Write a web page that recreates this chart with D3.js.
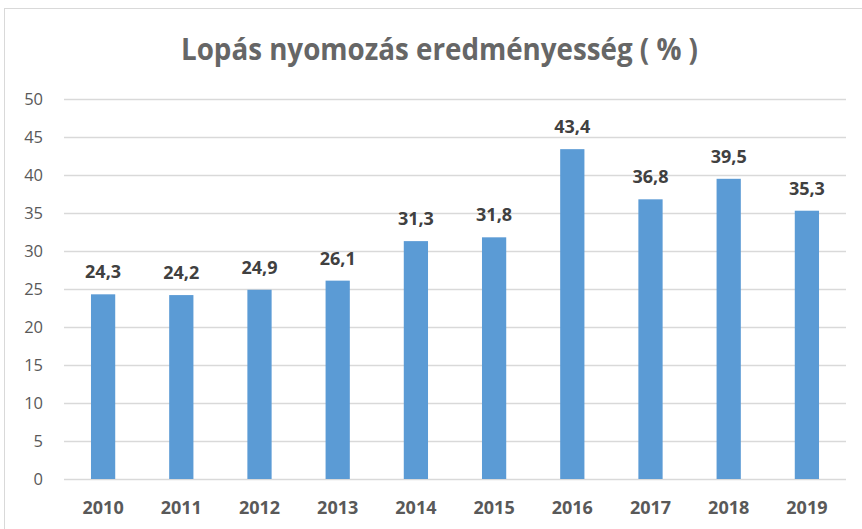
<!DOCTYPE html>
<html>
<head>
<meta charset="utf-8">
<script src="https://cdn.jsdelivr.net/npm/d3@7"></script>
<style>
  body { margin: 0; background: #fff; }
  text { font-family: "Open Sans", "DejaVu Sans", sans-serif; }
</style>
</head>
<body>
<svg id="chart" width="862" height="529"></svg>
<script>
// data
const years = ["2010", "2011", "2012", "2013", "2014", "2015", "2016", "2017", "2018", "2019"];
const values = [24.3, 24.2, 24.9, 26.1, 31.3, 31.8, 43.4, 36.8, 39.5, 35.3];
const yTicks = [0, 5, 10, 15, 20, 25, 30, 35, 40, 45, 50];
const title = "Lopás nyomozás eredményesség ( % )";

const svg = d3.select("#chart");

// chart frame
svg.append("rect")
    .attr("x", 4.5)
    .attr("y", 8.5)
    .attr("width", 870)
    .attr("height", 540)
    .attr("fill", "#fff")
    .attr("stroke", "#d9d9d9");

const x = d3.scaleBand()
    .domain(years)
    .range([64, 846])
    .paddingInner(0.69)
    .paddingOuter(0.345);

const y = d3.scaleLinear()
    .domain([0, 50])
    .range([479, 99]);

// gridlines
svg.append("g")
    .selectAll("line")
    .data(yTicks)
    .join("line")
    .attr("x1", 64)
    .attr("x2", 846)
    .attr("y1", d => Math.round(y(d)) + 0.5)
    .attr("y2", d => Math.round(y(d)) + 0.5)
    .attr("stroke", "#d9d9d9")
    .attr("stroke-width", 1.5);

// y axis labels
svg.append("g")
    .selectAll("text")
    .data(yTicks)
    .join("text")
    .attr("x", 43)
    .attr("y", d => y(d))
    .attr("dy", "0.36em")
    .attr("text-anchor", "end")
    .style("font-size", "16.5px")
    .attr("fill", "#595959")
    .text(d => d);

// bars
svg.append("g")
    .selectAll("rect")
    .data(values)
    .join("rect")
    .attr("x", (d, i) => x(years[i]))
    .attr("y", d => y(d))
    .attr("width", x.bandwidth())
    .attr("height", d => y(0) - y(d))
    .attr("fill", "#5b9bd5");

// value labels
svg.append("g")
    .selectAll("text")
    .data(values)
    .join("text")
    .attr("x", (d, i) => x(years[i]) + x.bandwidth() / 2)
    .attr("y", d => y(d) - 16)
    .attr("text-anchor", "middle")
    .style("font-size", "18px")
    .style("font-weight", "bold")
    .attr("fill", "#404040")
    .text(d => d.toFixed(1).replace(".", ","));

// x axis labels
svg.append("g")
    .selectAll("text")
    .data(years)
    .join("text")
    .attr("x", d => x(d) + x.bandwidth() / 2)
    .attr("y", 514)
    .attr("text-anchor", "middle")
    .style("font-size", "18px")
    .style("font-weight", "bold")
    .attr("fill", "#595959")
    .text(d => d);

// title
svg.append("text")
    .attr("x", 439.5)
    .attr("y", 60)
    .attr("text-anchor", "middle")
    .attr("textLength", 517)
    .attr("lengthAdjust", "spacingAndGlyphs")
    .style("font-size", "30px")
    .style("font-weight", "bold")
    .attr("fill", "#666666")
    .text(title);
</script>
</body>
</html>
